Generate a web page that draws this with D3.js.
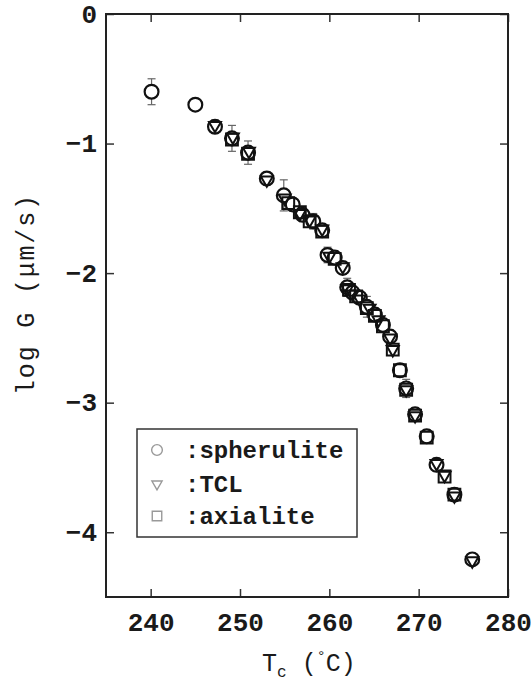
<!DOCTYPE html>
<html>
<head>
<meta charset="utf-8">
<script src="https://cdn.jsdelivr.net/npm/d3@7"></script>
<style>
body{margin:0;background:#fff;}
text{font-family:"Liberation Mono","DejaVu Sans Mono",monospace;fill:#1a1a1a;}
</style>
</head>
<body>
<div id="chart"></div>
<script>
// spherulite growth rates
var spherT = [240.1,245.0,247.2,249.1,250.9,253.0,254.9,255.9,257.0,258.2,259.2,259.8,260.6,261.5,262.0,262.6,263.4,264.2,265.1,266.0,266.8,267.9,268.6,269.6,270.9,272.0,274.0,276.0];
var spherG = [-0.60,-0.70,-0.87,-0.96,-1.07,-1.27,-1.40,-1.47,-1.55,-1.60,-1.67,-1.86,-1.88,-1.96,-2.11,-2.15,-2.19,-2.26,-2.32,-2.40,-2.49,-2.75,-2.89,-3.09,-3.26,-3.48,-3.71,-4.21];
var spherErr = [0.10,0.04,0.05,0.10,0.09,0.05,0.12,0.05,0.05,0.06,0.05,0.06,0.05,0.05,0.07,0.05,0.05,0.08,0.05,0.05,0.05,0.05,0.07,0.05,0.05,0.05,0.05,0.04];
// TCL
var tclT = [247.2,249.2,251.0,253.0,255.0,256.7,257.8,259.2,260.0,261.5,262.0,262.6,263.4,264.5,265.5,266.8,267.1,268.6,269.6,272.0,272.9,274.0,276.0];
var tclG = [-0.86,-0.95,-1.06,-1.28,-1.42,-1.54,-1.59,-1.66,-1.87,-1.95,-2.12,-2.16,-2.20,-2.27,-2.36,-2.50,-2.59,-2.90,-3.10,-3.47,-3.56,-3.72,-4.22];
// axialite
var axT = [249.1,250.9,255.4,256.7,257.8,259.2,260.6,262.2,263.0,264.2,265.1,266.0,267.1,267.9,268.6,269.6,270.9,272.9,274.0];
var axG = [-0.97,-1.08,-1.46,-1.53,-1.60,-1.68,-1.89,-2.13,-2.18,-2.27,-2.33,-2.41,-2.59,-2.75,-2.90,-3.10,-3.27,-3.57,-3.71];

var xTicks = [240,250,260,270,280];
var yTicks = [0,-1,-2,-3,-4];
var legendNames = [":spherulite",":TCL",":axialite"];

var width = 532, height = 683;
var x = d3.scaleLinear().domain([235,280]).range([106,508]);
var y = d3.scaleLinear().domain([0,-4.5]).range([14,597]);

var svg = d3.select("#chart").append("svg")
	.attr("width",width)
	.attr("height",height);

// axes with inward ticks on all four sides
var gb = svg.append("g").attr("transform","translate(0,"+y(-4.5)+")")
	.call(d3.axisBottom(x).tickValues(xTicks).tickSize(-8).tickPadding(16).tickFormat(d3.format("d")));
var gt = svg.append("g").attr("transform","translate(0,"+y(0)+")")
	.call(d3.axisTop(x).tickValues(xTicks).tickSize(-8).tickFormat(""));
var gl = svg.append("g").attr("transform","translate("+x(235)+",0)")
	.call(d3.axisLeft(y).tickValues(yTicks).tickSize(-8).tickPadding(9).tickFormat(d3.format("d")));
var gr = svg.append("g").attr("transform","translate("+x(280)+",0)")
	.call(d3.axisRight(y).tickValues(yTicks).tickSize(-8).tickFormat(""));

[gb,gt,gl,gr].forEach(function(g){
	g.select(".domain").remove();
	g.selectAll(".tick line").attr("stroke","#333").attr("stroke-width",1.5);
	g.selectAll(".tick text").style("font-size","26px").style("font-weight","bold").attr("fill","#1a1a1a");
});

svg.append("rect")
	.attr("x",x(235)).attr("y",y(0))
	.attr("width",x(280)-x(235)).attr("height",y(-4.5)-y(0))
	.attr("fill","none").attr("stroke","#222").attr("stroke-width",2);

// error bars (spherulite)
var errG = svg.append("g").attr("stroke","#666").attr("stroke-width",1.2);
for(var i=0;i<spherT.length;i++){
	var cx = x(spherT[i]);
	errG.append("line").attr("x1",cx).attr("x2",cx)
		.attr("y1",y(spherG[i]+spherErr[i])).attr("y2",y(spherG[i]-spherErr[i]));
	errG.append("line").attr("x1",cx-4).attr("x2",cx+4)
		.attr("y1",y(spherG[i]+spherErr[i])).attr("y2",y(spherG[i]+spherErr[i]));
	errG.append("line").attr("x1",cx-4).attr("x2",cx+4)
		.attr("y1",y(spherG[i]-spherErr[i])).attr("y2",y(spherG[i]-spherErr[i]));
}

var circleSym = d3.symbol().type(d3.symbolCircle).size(150);
var squareSym = d3.symbol().type(d3.symbolSquare).size(140);
var triSym = d3.symbol().type(d3.symbolTriangle).size(62);

svg.selectAll("path.spher")
	.data(spherT)
	.enter()
	.append("path")
	.attr("class","spher")
	.attr("d",circleSym)
	.attr("transform",function(d,i){ return "translate("+x(d)+","+y(spherG[i])+")"; })
	.attr("fill","#fff").attr("stroke","#111").attr("stroke-width",2.2);

svg.selectAll("path.axial")
	.data(axT)
	.enter()
	.append("path")
	.attr("class","axial")
	.attr("d",squareSym)
	.attr("transform",function(d,i){ return "translate("+x(d)+","+y(axG[i])+")"; })
	.attr("fill","none").attr("stroke","#111").attr("stroke-width",2);

svg.selectAll("path.tcl")
	.data(tclT)
	.enter()
	.append("path")
	.attr("class","tcl")
	.attr("d",triSym)
	.attr("transform",function(d,i){ return "translate("+x(d)+","+y(tclG[i])+") rotate(180)"; })
	.attr("fill","none").attr("stroke","#111").attr("stroke-width",2);

// legend
var lg = svg.append("g");
lg.append("rect").attr("x",137).attr("y",429).attr("width",220).attr("height",108)
	.attr("fill","#fff").attr("stroke","#333").attr("stroke-width",1.5);
var legSyms = [d3.symbol().type(d3.symbolCircle).size(90), d3.symbol().type(d3.symbolTriangle).size(45), d3.symbol().type(d3.symbolSquare).size(90)];
var legRows = [450,484,516];
legendNames.forEach(function(n,i){
	lg.append("path").attr("d",legSyms[i])
		.attr("transform","translate(157,"+legRows[i]+")"+(i==1?" rotate(180)":""))
		.attr("fill","none").attr("stroke","#999").attr("stroke-width",1.4);
	lg.append("text").attr("x",185).attr("y",legRows[i]).attr("dy","0.35em")
		.style("font-size","24px").style("font-weight","bold").text(n);
});

// axis titles
var xt = svg.append("text").attr("x",262).attr("y",671).style("font-size","25px");
xt.append("tspan").text("T");
xt.append("tspan").attr("dy",6).style("font-size","16px").text("c");
xt.append("tspan").attr("dy",-6).text(" (");
xt.append("tspan").attr("dy",-10).style("font-size","15px").text("°");
xt.append("tspan").attr("dy",10).text("C)");

svg.append("text")
	.attr("transform","translate(34,295) rotate(-90)")
	.attr("text-anchor","middle")
	.attr("textLength",200).attr("lengthAdjust","spacing")
	.style("font-size","25px")
	.attr("fill","#111")
	.text("log G (μm/s)");
</script>
</body>
</html>
